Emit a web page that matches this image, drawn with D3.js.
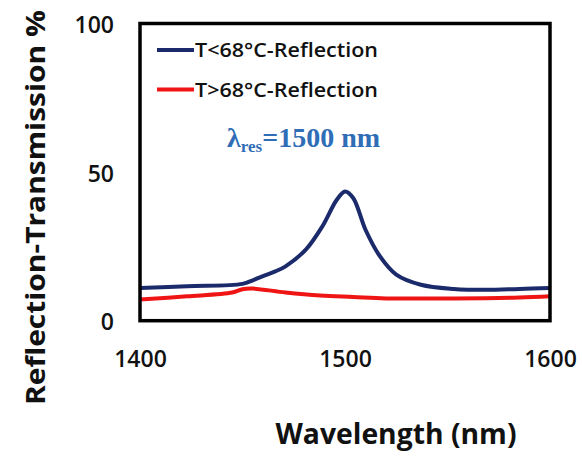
<!DOCTYPE html>
<html>
<head>
<meta charset="utf-8">
<script src="https://cdn.jsdelivr.net/npm/d3@7"></script>
<style>
html,body{margin:0;padding:0;background:#fff;}
svg{display:block;}
</style>
</head>
<body>
<script>
const wavelengths = [1400,1423,1450,1455,1460,1466,1471,1481,1489,1496,1500,1504,1510,1517,1525,1537,1553,1569,1585,1600];
const belowValues = [11.0,11.6,12.4,13.6,15.0,16.6,18.3,24.0,31.8,40.7,43.5,41.3,30.6,21.7,15.5,12.1,10.7,10.4,10.7,11.0];
const redWavelengths = [1400,1423,1445,1450,1455,1471,1488,1504,1520,1553,1585,1600];
const aboveValues = [7.1,8.2,9.5,10.6,10.8,9.5,8.5,8.0,7.5,7.5,7.8,8.2];
const seriesNames = ["T<68°C-Reflection","T>68°C-Reflection"];
const xTicks = [1400,1500,1600];
const yTicks = [0,50,100];

const W=582,H=458;
const svg=d3.select("body").append("svg").attr("width",W).attr("height",H);
const x=d3.scaleLinear().domain([1400,1600]).range([140,550]);
const y=d3.scaleLinear().domain([0,100]).range([320.7,23.5]);

const line=d3.line().x(d=>x(d[0])).y(d=>y(d[1])).curve(d3.curveCatmullRom.alpha(0.5));
const blue="#1b2a6b", red="#f01515";

svg.append("path").datum(wavelengths.map((w,i)=>[w,belowValues[i]]))
  .attr("d",line).attr("fill","none").attr("stroke",blue).attr("stroke-width",4).attr("stroke-linejoin","round");
svg.append("path").datum(redWavelengths.map((w,i)=>[w,aboveValues[i]]))
  .attr("d",line).attr("fill","none").attr("stroke",red).attr("stroke-width",4).attr("stroke-linejoin","round");

// frame
svg.append("rect").attr("x",x(1400)).attr("y",y(100)).attr("width",x(1600)-x(1400)).attr("height",y(0)-y(100))
  .attr("fill","none").attr("stroke","#000").attr("stroke-width",3.5);

const font="'Open Sans', sans-serif";
// y tick labels
const yAxis=d3.axisLeft(y).tickValues(yTicks).tickSize(0).tickPadding(26);
const gy=svg.append("g").attr("transform",`translate(${x(1400)},0)`).call(yAxis);
gy.select(".domain").remove();
gy.selectAll("text").attr("font-family",font).attr("font-size",23).attr("font-weight",600).attr("fill","#111")
  .attr("dy","0.4em");
// x tick labels
const xAxis=d3.axisBottom(x).tickValues(xTicks).tickSize(0).tickPadding(30).tickFormat(d3.format("d"));
const gx=svg.append("g").attr("transform",`translate(0,${y(0)})`).call(xAxis);
gx.select(".domain").remove();
gx.selectAll("text").attr("font-family",font).attr("font-size",23).attr("font-weight",600).attr("fill","#111");

// legend
const legendY=[50,89.5];
const colors=[blue,red];
seriesNames.forEach((n,i)=>{
  svg.append("line").attr("x1",157).attr("x2",194).attr("y1",legendY[i]).attr("y2",legendY[i])
    .attr("stroke",colors[i]).attr("stroke-width",4);
  svg.append("text").attr("x",195).attr("y",legendY[i]+7).text(n)
    .attr("font-family",font).attr("font-size",20).attr("font-weight",600).attr("fill","#111")
    .attr("textLength",183).attr("lengthAdjust","spacingAndGlyphs");
});

// annotation
const ann=svg.append("text").attr("x",227).attr("y",146.5).attr("font-family","'Liberation Serif', 'Times New Roman', serif")
  .attr("font-weight","bold").attr("fill","#2f6db6").attr("font-size",28);
ann.append("tspan").text("λ");
ann.append("tspan").text("res").attr("font-size",17).attr("dy",5);
ann.append("tspan").text("=1500 nm").attr("dy",-5);

// axis titles
svg.append("text").attr("transform","translate(45,207.5) rotate(-90)").attr("text-anchor","middle")
  .text("Reflection-Transmission %").attr("font-family",font).attr("font-size",27).attr("font-weight",700).attr("fill","#111")
  .attr("textLength",395).attr("lengthAdjust","spacingAndGlyphs");
svg.append("text").attr("x",396).attr("y",444).attr("text-anchor","middle")
  .text("Wavelength (nm)").attr("font-family",font).attr("font-size",29).attr("font-weight",700).attr("fill","#111")
  .attr("textLength",241).attr("lengthAdjust","spacingAndGlyphs");
</script>
</body>
</html>
